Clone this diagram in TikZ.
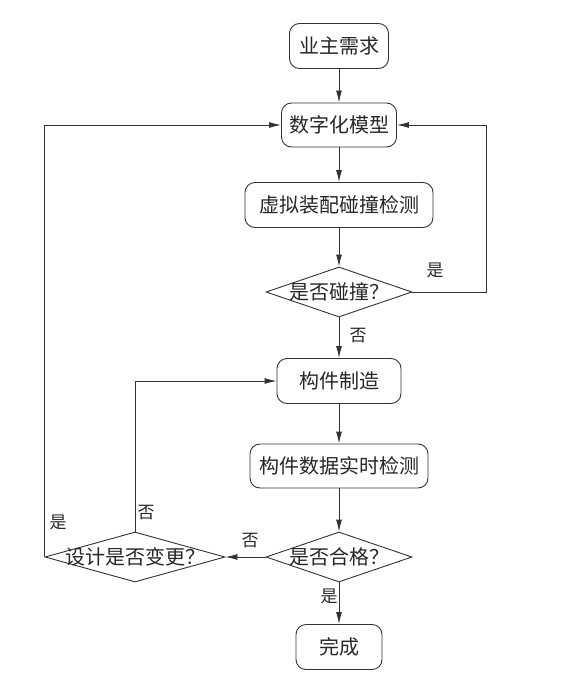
\documentclass[tikz,border=0pt]{standalone}
\usepackage{fontspec}
\setmainfont{Noto Sans CJK SC}
\usetikzlibrary{arrows.meta,shapes.geometric}
\begin{document}
\begin{tikzpicture}[x=1pt,y=-1pt,
  every node/.style={font=\fontsize{20}{23}\selectfont, text=black!85},
  proc/.style={draw=black!80, line width=0.9pt, rounded corners=10pt, minimum height=45pt, inner sep=0pt},
  dec/.style={draw=black!80, line width=0.9pt, shape=diamond, inner sep=0pt},
  lab/.style={font=\fontsize{17}{20}\selectfont},
  arr/.style={draw=black!80, line width=0.9pt, -{Latex[length=12pt,width=6pt]}},
  ln/.style={draw=black!80, line width=0.9pt}]
\useasboundingbox (0,0) rectangle (575,682);
\node[proc, minimum width=99pt] (req) at (339,46) {业主需求};
\node[proc, minimum width=115pt, minimum height=44pt] (model) at (339,125) {数字化模型};
\node[proc, minimum width=188pt] (vr) at (339,205) {虚拟装配碰撞检测};
\node[dec, minimum width=146pt, minimum height=50pt, label={center:是否碰撞？}] (col) at (339,292) {};
\node[proc, minimum width=124pt] (mfg) at (339,381) {构件制造};
\node[proc, minimum width=178pt, minimum height=44pt] (rt) at (339,466) {构件数据实时检测};
\node[dec, minimum width=146pt, minimum height=50pt, label={center:是否合格？}] (ok) at (339,557) {};
\node[dec, minimum width=180pt, minimum height=50pt, label={center:设计是否变更？}] (chg) at (135,557) {};
\node[proc, minimum width=86pt] (done) at (339,647) {完成};
\coordinate (r1) at (486,292);
\draw[arr] (req) -- (model);
\draw[arr] (model) -- (vr);
\draw[arr] (vr) -- (col);
\draw[arr] (col) -- (mfg);
\draw[arr] (col.east) -- (r1) |- (model.east);
\draw[arr] (mfg) -- (rt);
\draw[arr] (rt) -- (ok);
\draw[arr] (ok) -- (done);
\draw[arr] (ok.west) -- (chg.east);
\draw[arr] (chg.north) |- (mfg.west);
\draw[arr] (chg.west) |- (model.west);
\node[lab] (l1) at (435,270) {是};
\node[lab] (l2) at (358,336) {否};
\node[lab] (l3) at (250,541) {否};
\node[lab] (l4) at (146,513) {否};
\node[lab] (l5) at (58,522) {是};
\node[lab] (l6) at (329,596) {是};
\end{tikzpicture}
\end{document}
